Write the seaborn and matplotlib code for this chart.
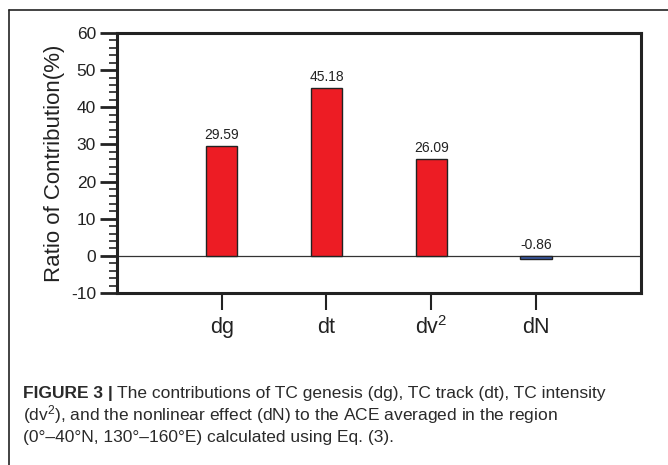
import matplotlib
matplotlib.use("Agg")
import matplotlib.pyplot as plt
import seaborn as sns
import pandas as pd
from matplotlib.ticker import MultipleLocator
from matplotlib.lines import Line2D

categories = ["dg", "dt", "dv$^2$", "dN"]
values = [29.59, 45.18, 26.09, -0.86]
value_labels = ["29.59", "45.18", "26.09", "-0.86"]
bar_colors = ["#ED1C24", "#ED1C24", "#ED1C24", "#3A5BA8"]
yticks = [-10, 0, 10, 20, 30, 40, 50, 60]

sns.set_theme(style="white")
plt.rcParams['font.family'] = ['Liberation Sans', 'DejaVu Sans']
plt.rcParams['axes.unicode_minus'] = False
plt.rcParams['mathtext.fontset'] = 'custom'
plt.rcParams['mathtext.rm'] = 'Liberation Sans'
plt.rcParams['mathtext.it'] = 'Liberation Sans'

fig = plt.figure(figsize=(6.68, 4.65), dpi=100)
ax = fig.add_axes([0.175, 0.370, 0.7844, 0.559])

df = pd.DataFrame({"cat": categories, "val": values})
sns.barplot(data=df, x="cat", y="val", hue="cat", palette=bar_colors,
            saturation=1, width=0.3, edgecolor="#222222", linewidth=1.0,
            legend=False, ax=ax, zorder=3)

ax.axhline(0, color="#333333", linewidth=0.9, zorder=2)
ax.set_xlim(-1, 4)
ax.set_ylim(-10, 60)
ax.set_yticks(yticks)
ax.yaxis.set_minor_locator(MultipleLocator(2))
ax.tick_params(axis="y", which="major", direction="out", length=12, width=2,
               labelsize=12.5, left=True, pad=3, color="#222222", labelcolor="#222222")
ax.tick_params(axis="y", which="minor", direction="out", length=6, width=1.2,
               left=True, color="#222222")
ax.tick_params(axis="x", which="major", direction="out", length=12, width=1.5,
               labelsize=15.5, bottom=True, pad=5, color="#222222", labelcolor="#222222")
for s in ax.spines.values():
    s.set_linewidth(2.2)
    s.set_color("#222222")
ax.set_xlabel("")
ax.set_ylabel("Ratio of Contribution(%)", fontsize=16, labelpad=4, color="#222222")

for i, (v, lab) in enumerate(zip(values, value_labels)):
    ax.text(i, max(v, 0) + 1.0, lab, ha="center", va="bottom", fontsize=10,
            color="#222222")

# frame lines
fig.add_artist(Line2D([9/668, 9/668], [0, 1 - 10/465], color="#222222",
                      linewidth=1.2, transform=fig.transFigure))
fig.add_artist(Line2D([9/668, 1], [1 - 10/465, 1 - 10/465], color="#222222",
                      linewidth=1.2, transform=fig.transFigure))

cap_kw = dict(fontsize=12.5, color="#2a2a2a", transform=fig.transFigure,
              va="center", ha="left")
t1 = fig.text(23/668, 1 - 393/465, "FIGURE 3 |", fontweight="bold", **cap_kw)
fig.canvas.draw()
bb = t1.get_window_extent()
x2 = (bb.x1 + 4) / 668
fig.text(x2, 1 - 393/465, "The contributions of TC genesis (dg), TC track (dt), TC intensity", **cap_kw)
fig.text(23/668, 1 - 415/465, "(dv$^2$), and the nonlinear effect (dN) to the ACE averaged in the region", **cap_kw)
fig.text(23/668, 1 - 437/465, "(0°–40°N, 130°–160°E) calculated using Eq. (3).", **cap_kw)

fig.savefig("out.png", dpi=100)
